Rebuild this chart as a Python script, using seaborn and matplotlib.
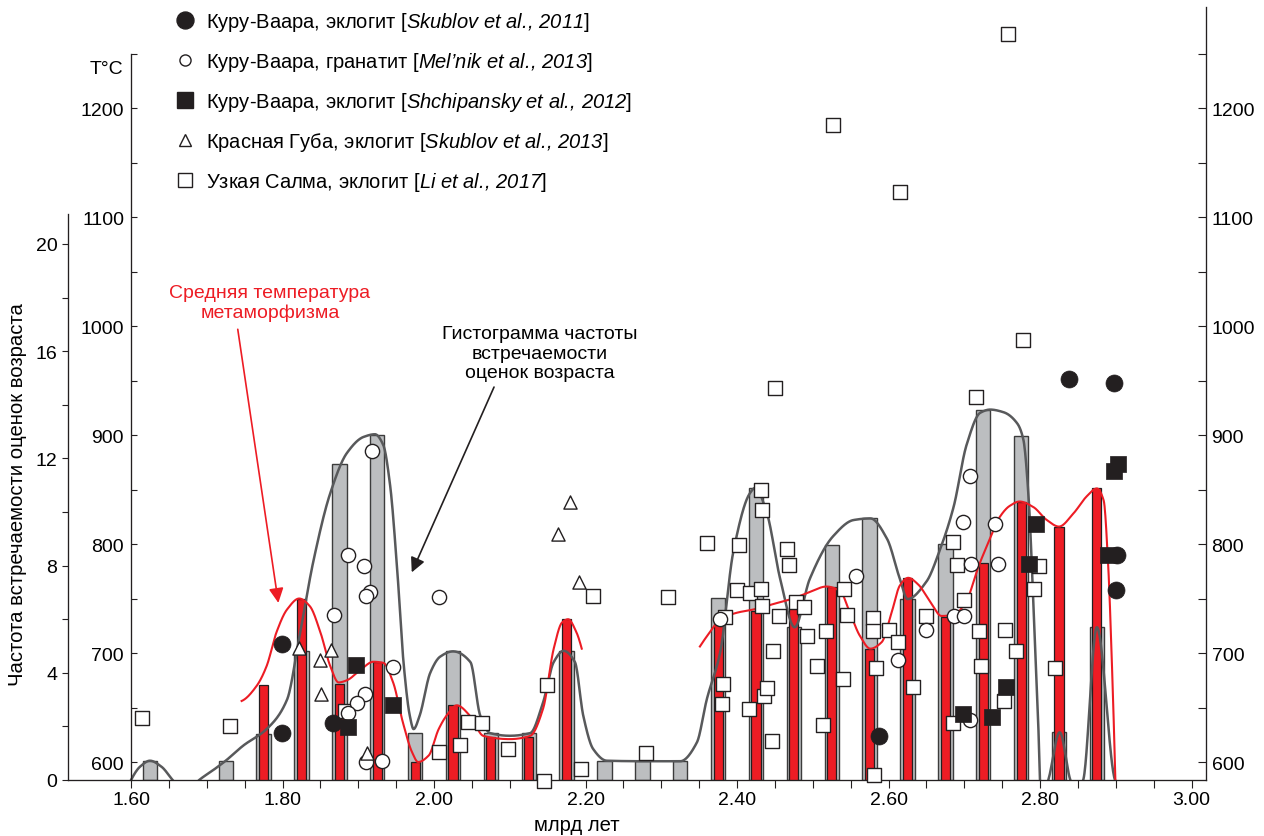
# plot.py
# -*- coding: utf-8 -*-
"""
Age histogram (grey), mean metamorphic temperature (red) and
individual T estimates by locality, on a shared age axis.
Output: out.png
"""

import numpy as np
import pandas as pd
import matplotlib
matplotlib.use("Agg")
import matplotlib.pyplot as plt
from matplotlib.lines import Line2D
from matplotlib.ticker import FixedLocator, FormatStrFormatter
import seaborn as sns

# ------------ Data ------------
# histogram bins (billion years)
bin_age = [1.625, 1.725, 1.775, 1.825, 1.875, 1.925, 1.975,
           2.025, 2.075, 2.125, 2.175, 2.225, 2.275, 2.325, 2.375, 2.425,
           2.475, 2.525, 2.575, 2.625, 2.675, 2.725, 2.775, 2.825, 2.875]
bin_freq = [0.7, 0.7, 1.72, 4.82, 11.8, 12.87, 1.77,
            4.8, 1.75, 1.75, 4.82, 0.72, 0.72, 0.72, 6.78, 10.88,
            5.7, 8.77, 9.76, 6.75, 8.81, 13.82, 12.85, 1.78, 5.7]
# mean temperature per bin (NaN = no estimate)
bin_temp = [np.nan, np.nan, 671, 750, 672, 692, 600,
            652, 623, 623, 731, np.nan, np.nan, np.nan, 730, 739,
            742, 761, 704, 769, 733, 783, 839, 816, 851]

# smoothed frequency curve, read along its path (negative = below the axis)
curve_age = [1.600, 1.612, 1.625, 1.640, 1.655, 1.672, 1.690, 1.710, 1.725,
             1.748, 1.779, 1.806, 1.822, 1.841, 1.863, 1.885, 1.907, 1.922,
             1.933, 1.942, 1.951, 1.960, 1.968, 1.973, 1.981, 1.995, 2.008,
             2.025, 2.048, 2.061, 2.074, 2.100, 2.127, 2.144, 2.158, 2.171,
             2.186, 2.197, 2.210, 2.228, 2.280, 2.325, 2.347, 2.360, 2.378,
             2.395, 2.417, 2.424, 2.439, 2.457, 2.476, 2.496, 2.527, 2.554,
             2.576, 2.598, 2.615, 2.625, 2.650, 2.668, 2.686, 2.703, 2.721,
             2.734, 2.752, 2.770, 2.778, 2.785, 2.791, 2.798, 2.800, 2.805,
             2.811, 2.826, 2.840, 2.848, 2.857, 2.875, 2.899, 2.905]
curve_freq = [0, 0.5, 0.72, 0.5, 0, -0.5, 0, 0.4, 0.72,
              1.28, 1.9, 3.0, 5.3, 8.2, 10.7, 12.2, 12.8, 12.9,
              12.5, 11.0, 8.0, 4.3, 2.4, 1.9, 2.4, 4.0, 4.6,
              4.8, 4.4, 2.4, 1.75, 1.65, 1.75, 2.9, 4.4, 4.82,
              4.4, 2.4, 1.16, 0.72, 0.7, 0.7, 1.4, 3.0, 4.8,
              8.5, 10.7, 10.9, 10.0, 7.5, 5.7, 7.5, 9.1, 9.7,
              9.76, 9.0, 7.5, 6.75, 7.4, 8.6, 10.2, 12.5, 13.7,
              13.82, 13.72, 13.3, 12.7, 10.5, 6.75, 1.8, 0, -0.5,
              0, 1.78, 0, -0.5, 0, 5.7, 0, -0.3]

# mean temperature curve, two pieces
temp1_age = [1.746, 1.766, 1.779, 1.792, 1.806, 1.822, 1.836, 1.850, 1.863,
             1.874, 1.885, 1.902, 1.920, 1.933, 1.946, 1.959, 1.971, 1.979,
             1.993, 2.006, 2.017, 2.030, 2.048, 2.065, 2.100, 2.127, 2.144,
             2.158, 2.169, 2.177, 2.188, 2.195]
temp1_t = [656, 670, 688, 719, 740, 750, 743, 719, 688,
           673, 675, 684, 692, 691, 673, 636, 609, 600,
           606, 630, 643, 652, 642, 624, 621, 624, 649,
           704, 728, 731, 719, 704]
temp2_age = [2.351, 2.364, 2.378, 2.400, 2.422, 2.448, 2.474, 2.496, 2.518,
             2.536, 2.549, 2.562, 2.576, 2.591, 2.604, 2.615, 2.626, 2.639,
             2.655, 2.670, 2.686, 2.703, 2.718, 2.734, 2.747, 2.760, 2.773,
             2.791, 2.809, 2.825, 2.844, 2.862, 2.875, 2.884, 2.890, 2.895,
             2.900]
temp2_t = [706, 719, 731, 737, 740, 745, 750, 756, 761,
           757, 737, 716, 704, 710, 737, 762, 769, 763,
           747, 734, 735, 748, 778, 805, 825, 835, 839,
           834, 822, 816, 828, 844, 851, 840, 780, 688,
           570]

# Куру-Ваара, эклогит [Skublov et al., 2011]
sk11_age = [1.799, 1.799, 1.866, 2.588, 2.838, 2.898, 2.901, 2.900]
sk11_t = [708, 627, 636, 624, 951, 948, 790, 758]

# Куру-Ваара, гранатит [Mel'nik et al., 2013]
mel_age = [1.918, 1.887, 1.907, 1.916, 1.910, 1.868, 1.946, 1.909, 1.898,
           1.887, 1.910, 1.931, 2.006, 2.378, 2.557, 2.650, 2.613, 2.687,
           2.699, 2.707, 2.698, 2.709, 2.740, 2.745, 2.707]
mel_t = [885, 790, 780, 756, 752, 735, 687, 662, 654,
         645, 600, 601, 751, 731, 771, 721, 694, 734,
         734, 862, 820, 782, 818, 782, 639]

# Куру-Ваара, эклогит [Shchipansky et al., 2012]
sch_age = [1.897, 1.886, 1.946, 2.698, 2.737, 2.755, 2.795, 2.785,
           2.897, 2.903, 2.890]
sch_t = [689, 632, 652, 644, 641, 669, 818, 782, 867, 873, 790]

# Красная Губа, эклогит [Skublov et al., 2013]
sk13_age = [1.822, 1.850, 1.864, 1.851, 1.911, 2.180, 2.164, 2.191]
sk13_t = [705, 694, 703, 662, 608, 839, 809, 765]

# Узкая Салма, эклогит [Li et al., 2017]
li_age = [1.614, 1.731, 1.883, 2.007, 2.210, 2.309, 2.360, 2.149, 2.045,
          2.063, 2.034, 2.098, 2.145, 2.194, 2.280, 2.450, 2.716, 2.402,
          2.431, 2.433, 2.466, 2.468, 2.400, 2.417, 2.432, 2.433, 2.384,
          2.456, 2.478, 2.488, 2.493, 2.448, 2.518, 2.541, 2.545, 2.505,
          2.540, 2.514, 2.381, 2.380, 2.416, 2.436, 2.439, 2.446, 2.580,
          2.580, 2.601, 2.613, 2.584, 2.632, 2.581, 2.650, 2.685, 2.690,
          2.700, 2.720, 2.722, 2.685, 2.777, 2.754, 2.768, 2.753, 2.799,
          2.792, 2.820, 2.527, 2.615, 2.758]
li_t = [640, 633, 647, 609, 752, 751, 801, 671, 637,
        636, 616, 612, 583, 594, 608, 943, 935, 799,
        850, 831, 795, 781, 758, 755, 759, 743, 733,
        734, 747, 742, 716, 702, 720, 759, 735, 688,
        676, 634, 672, 653, 649, 661, 668, 619, 732,
        720, 721, 710, 686, 669, 588, 734, 802, 781,
        749, 720, 688, 636, 987, 721, 702, 656, 780,
        759, 686, 1184, 1123, 1268]

legend_labels = [
    r"Куру-Ваара, эклогит [$Skublov\ et\ al.\!{,}\ 2011$]",
    r"Куру-Ваара, гранатит [$Mel’nik\ et\ al.\!{,}\ 2013$]",
    r"Куру-Ваара, эклогит [$Shchipansky\ et\ al.\!{,}\ 2012$]",
    r"Красная Губа, эклогит [$Skublov\ et\ al.\!{,}\ 2013$]",
    r"Узкая Салма, эклогит [$Li\ et\ al.\!{,}\ 2017$]",
]

# ------------ Style ------------
plt.rcParams["font.family"] = ["Liberation Sans", "DejaVu Sans"]
plt.rcParams["mathtext.fontset"] = "custom"
plt.rcParams["mathtext.rm"] = "Liberation Sans:italic"
plt.rcParams["mathtext.it"] = "Liberation Sans:italic"
plt.rcParams["mathtext.bf"] = "Liberation Sans:bold"

INK = "#231f20"
RED = "#ed1c24"
GREY_BAR = "#bcbec0"
GREY_LINE = "#58595b"
FS = 14


def pchip(xk, yk, xs):
    """Monotone cubic (Fritsch-Carlson) through (xk, yk), evaluated at xs."""
    xk = np.asarray(xk, float)
    yk = np.asarray(yk, float)
    n = len(xk)
    h = np.diff(xk)
    dl = np.diff(yk) / h
    d = np.zeros(n)
    for k in range(1, n - 1):
        if dl[k - 1] * dl[k] > 0:
            w1 = 2 * h[k] + h[k - 1]
            w2 = h[k] + 2 * h[k - 1]
            d[k] = (w1 + w2) / (w1 / dl[k - 1] + w2 / dl[k])

    def end(h0, h1, m0, m1):
        e = ((2 * h0 + h1) * m0 - h0 * m1) / (h0 + h1)
        if np.sign(e) != np.sign(m0):
            e = 0.0
        elif np.sign(m0) != np.sign(m1) and abs(e) > 3 * abs(m0):
            e = 3 * m0
        return e

    d[0] = end(h[0], h[1], dl[0], dl[1])
    d[-1] = end(h[-1], h[-2], dl[-1], dl[-2])
    i = np.clip(np.searchsorted(xk, xs) - 1, 0, n - 2)
    t = (xs - xk[i]) / h[i]
    h00 = 2 * t ** 3 - 3 * t ** 2 + 1
    h10 = t ** 3 - 2 * t ** 2 + t
    h01 = -2 * t ** 3 + 3 * t ** 2
    h11 = t ** 3 - t ** 2
    return h00 * yk[i] + h10 * h[i] * d[i] + h01 * yk[i + 1] + h11 * h[i] * d[i + 1]


# ------------ Figure / axes ------------
fig = plt.figure(figsize=(12.64, 8.37), dpi=100)
W, H = 1264, 837
ax = fig.add_axes([67.7 / W, 56 / H, (1206 - 67.7) / W, 773 / H])  # temperature
axf = ax.twinx()   # frequency (left outer axis)
axr = ax.twinx()   # temperature, right side
axf.set_zorder(1)
ax.set_zorder(2)
axr.set_zorder(3)
ax.patch.set_visible(False)

XLIM = (1.5164, 3.0191)
TLIM = (583.5, 1292.7)
FLIM = (0, 28.84)

# ------------ Histogram bars ------------
hist = pd.DataFrame({"age": bin_age, "freq": bin_freq, "temp": bin_temp})
sns.barplot(data=hist, x="age", y="freq", native_scale=True, width=0.38,
            color=GREY_BAR, edgecolor="#3c3c3c", linewidth=1.0,
            saturation=1, errorbar=None, orient="x", ax=axf, zorder=1)

red = hist[hist["temp"].notna()]
sns.barplot(data=red, x="age", y="temp", native_scale=True, width=0.24,
            color=RED, edgecolor=INK, linewidth=0.9,
            saturation=1, errorbar=None, orient="x", ax=ax, zorder=1)

# ------------ Smoothed curves ------------
axf.set_ylim(*FLIM)
xs = np.linspace(curve_age[0], curve_age[-1], 2000)
ax.plot(xs, pchip(curve_age, curve_freq, xs), color=GREY_LINE, lw=1.8,
        zorder=2, transform=axf.transData)

for a_k, t_k in ((temp1_age, temp1_t), (temp2_age, temp2_t)):
    xr = np.linspace(a_k[0], a_k[-1], 1000)
    ax.plot(xr, pchip(a_k, t_k, xr), color=RED, lw=1.5, zorder=3)

# ------------ Points ------------
pts = dict(ax=ax, clip_on=False, legend=False)
sns.scatterplot(x=li_age, y=li_t, marker="s", s=115, color="white",
                edgecolor=INK, linewidth=1.0, zorder=4, **pts)
sns.scatterplot(x=mel_age, y=mel_t, marker="o", s=105, color="white",
                edgecolor=INK, linewidth=1.0, zorder=5, **pts)
sns.scatterplot(x=sk13_age, y=sk13_t, marker="^", s=90, color="white",
                edgecolor=INK, linewidth=1.0, zorder=6, **pts)
sns.scatterplot(x=sch_age, y=sch_t, marker="s", s=135, color=INK,
                edgecolor=INK, linewidth=0.5, zorder=7, **pts)
sns.scatterplot(x=sk11_age, y=sk11_t, marker="o", s=150, color=INK,
                edgecolor=INK, linewidth=0.5, zorder=8, **pts)

# ------------ Axes cosmetics ------------
for a in (ax, axf, axr):
    a.set_xlim(*XLIM)
    a.set_xlabel("")
    a.set_ylabel("")
    for s in a.spines.values():
        s.set_color(INK)
        s.set_linewidth(0.95)
ax.set_ylim(*TLIM)
axr.set_ylim(*TLIM)
axf.set_ylim(*FLIM)

ax.spines["top"].set_visible(False)
ax.spines["right"].set_visible(False)
ax.spines["left"].set_position(("data", 1.6))
ax.spines["left"].set_bounds(TLIM[0], 1250)
for side in ("top", "right", "bottom"):
    axf.spines[side].set_visible(False)
axf.spines["left"].set_visible(True)
axf.spines["left"].set_bounds(0, 21.1)
for side in ("top", "left", "bottom"):
    axr.spines[side].set_visible(False)

t_major = [600, 700, 800, 900, 1000, 1100, 1200]
t_minor = [650, 750, 850, 950, 1050, 1150, 1250]
x_major = [1.6, 1.8, 2.0, 2.2, 2.4, 2.6, 2.8, 3.0]
x_minor = [1.65, 1.70, 1.75, 1.85, 1.90, 1.95, 2.05, 2.10, 2.15, 2.25, 2.30,
           2.35, 2.45, 2.50, 2.55, 2.65, 2.70, 2.75, 2.85, 2.90, 2.95]

ax.xaxis.set_major_locator(FixedLocator(x_major))
ax.xaxis.set_minor_locator(FixedLocator(x_minor))
ax.xaxis.set_major_formatter(FormatStrFormatter("%.2f"))
ax.tick_params(axis="x", which="both", direction="out", length=5.5,
               width=0.8, labelsize=FS, pad=2.5, color=INK)

for a in (ax, axr):
    a.yaxis.set_major_locator(FixedLocator(t_major))
    a.yaxis.set_minor_locator(FixedLocator(t_minor))
ax.yaxis.tick_left()
ax.tick_params(axis="y", which="both", direction="in", length=4.5,
               width=0.8, labelsize=FS, pad=5, color=INK)
axr.yaxis.tick_right()
axr.tick_params(axis="y", which="both", direction="in", length=6,
                width=0.8, labelsize=FS, pad=4, color=INK)

axf.yaxis.tick_left()
axf.yaxis.set_major_locator(FixedLocator([0, 4, 8, 12, 16, 20]))
axf.yaxis.set_minor_locator(FixedLocator([2, 6, 10, 14, 18]))
axf.tick_params(axis="y", which="both", direction="out", length=4.5,
                width=0.8, labelsize=FS, pad=3, color=INK)

# ------------ Labels and notes ------------
ax.annotate("T°C", xy=(1.6, 1250), xytext=(-8, -15), textcoords="offset pixels",
            ha="right", va="center", fontsize=FS)
fig.text(18 / W, 1 - 495 / H, "Частота встречаемости оценок возраста",
         rotation=90, ha="center", va="center", fontsize=14.6)
fig.text(577 / W, 1 - 826 / H, "млрд лет", ha="center", va="center", fontsize=14.6)

ax.text(1.7835, 1022, "Средняя температура\nметаморфизма", color=RED,
        ha="center", va="center", fontsize=FS, linespacing=1.18)
ax.annotate("", xy=(1.7945, 746), xytext=(1.7409, 997),
            arrowprops=dict(arrowstyle="-|>", color=RED, lw=1.2,
                            mutation_scale=22, shrinkA=0, shrinkB=0))
ax.text(2.140, 975, "Гистограмма частоты\nвстречаемости\nоценок возраста",
        ha="center", va="center", fontsize=FS, linespacing=1.18)
ax.annotate("", xy=(1.9706, 774), xytext=(2.0792, 944),
            arrowprops=dict(arrowstyle="-|>", color=INK, lw=1.2,
                            mutation_scale=22, shrinkA=0, shrinkB=0))

# ------------ Legend ------------
handles = [
    Line2D([], [], ls="none", marker="o", ms=12.2, mfc=INK, mec=INK),
    Line2D([], [], ls="none", marker="o", ms=8, mfc="white", mec=INK, mew=1.0),
    Line2D([], [], ls="none", marker="s", ms=11.5, mfc=INK, mec=INK),
    Line2D([], [], ls="none", marker="^", ms=8.6, mfc="white", mec=INK, mew=1.0),
    Line2D([], [], ls="none", marker="s", ms=10.5, mfc="white", mec=INK, mew=1.0),
]
fig.legend(handles, legend_labels, loc="upper left",
           bbox_to_anchor=(175 / W, 1 - 11 / H), frameon=False, fontsize=14.5,
           handlelength=0.97, handletextpad=0.58, labelspacing=0.85,
           borderpad=0, borderaxespad=0)

fig.savefig("out.png", dpi=100)
